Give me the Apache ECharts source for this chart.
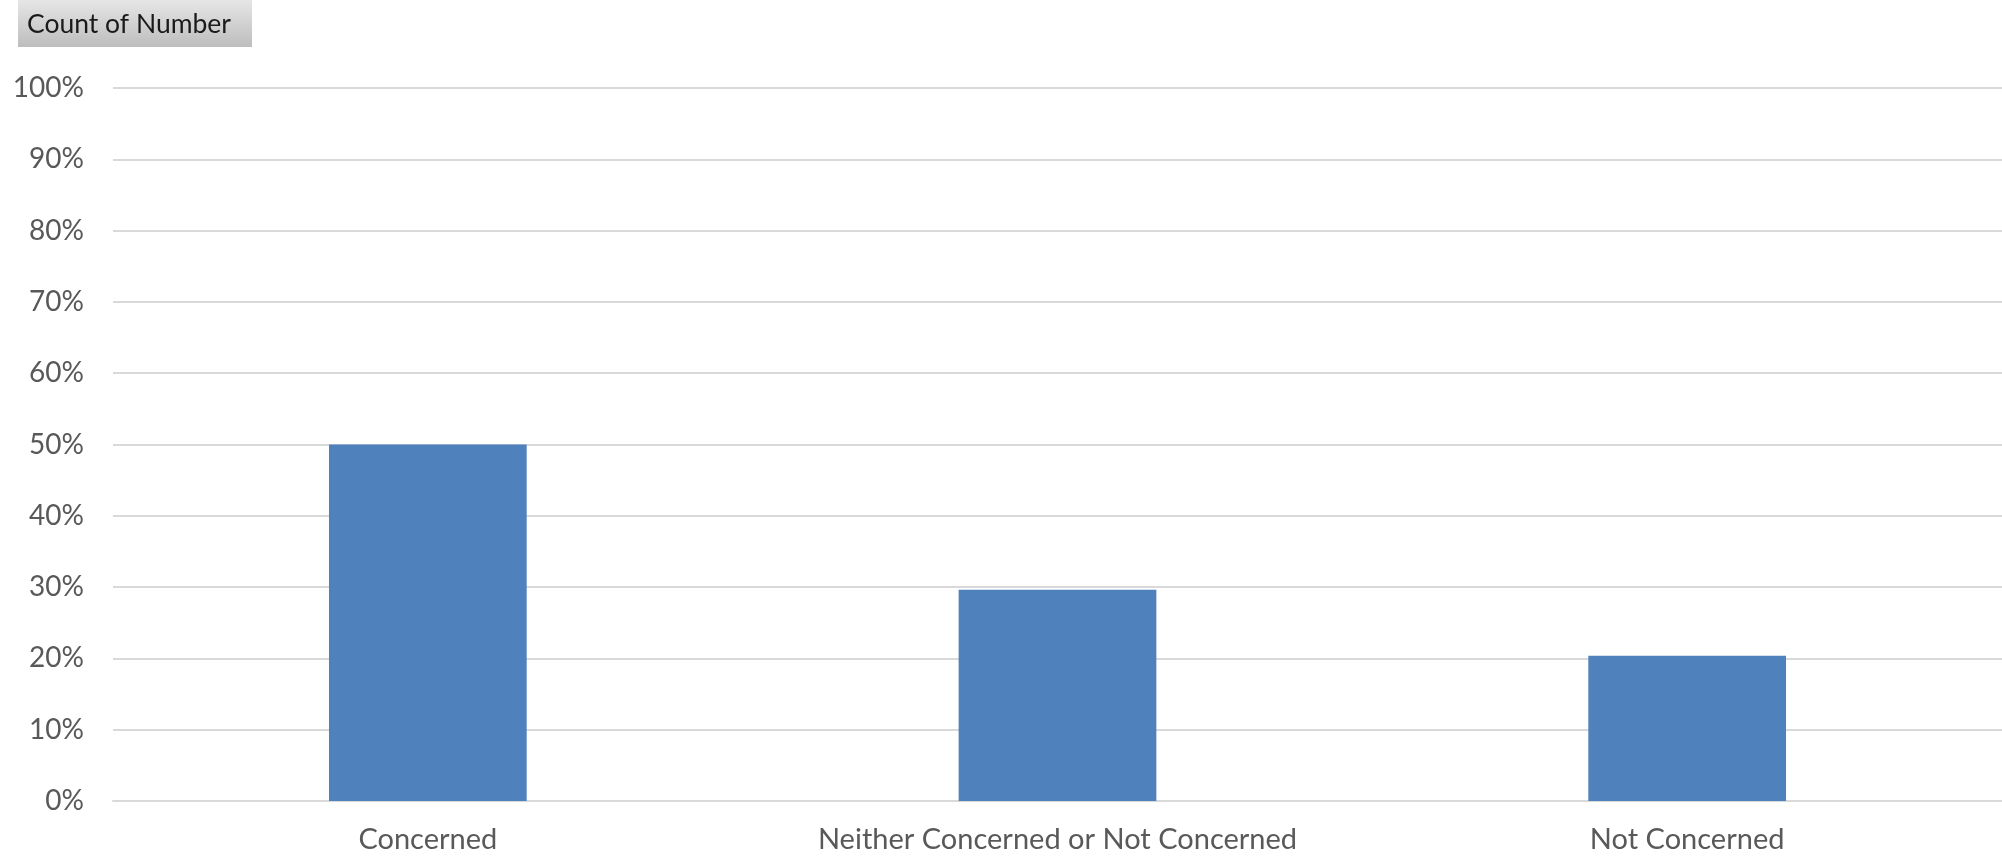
<!DOCTYPE html>
<html>
<head>
<meta charset="utf-8">
<script src="https://cdn.jsdelivr.net/npm/echarts@6/dist/echarts.min.js"></script>
<style>html,body{margin:0;padding:0;background:#fff;}#c{width:2002px;height:857px;}</style>
</head>
<body>
<div id="c"></div>
<script>
const categories = ['Concerned', 'Neither Concerned or Not Concerned', 'Not Concerned'];
const shares = [0.50, 0.2963, 0.2037];
const yTicks = [0, 0.1, 0.2, 0.3, 0.4, 0.5, 0.6, 0.7, 0.8, 0.9, 1.0];
const fieldLabel = 'Count of Number';

const chart = echarts.init(document.getElementById('c'), null, {renderer: 'canvas'});
chart.setOption({
  animation: false,
  backgroundColor: '#ffffff',
  grid: {left: 113, top: 88, width: 1893, height: 713, containLabel: false},
  xAxis: {
    type: 'category',
    data: categories,
    axisLine: {show: true, lineStyle: {color: '#d9d9d9', width: 2}},
    axisTick: {show: false},
    axisLabel: {color: '#595959', fontFamily: 'Lato', fontSize: 29, margin: 24}
  },
  yAxis: {
    type: 'value',
    min: yTicks[0],
    max: yTicks[yTicks.length - 1],
    interval: 0.1,
    axisLine: {show: false},
    axisTick: {show: false},
    splitLine: {lineStyle: {color: '#d9d9d9', width: 2}},
    axisLabel: {
      color: '#595959', fontFamily: 'Lato', fontSize: 28, margin: 29,
      formatter: v => Math.round(v * 100) + '%'
    }
  },
  series: [{
    type: 'bar',
    data: shares,
    barWidth: '31.4%',
    itemStyle: {color: '#4f81bd'}
  }],
  graphic: [{
    type: 'group',
    left: 18,
    top: 0,
    children: [{
      type: 'rect',
      shape: {x: 0, y: 0, width: 234, height: 47},
      style: {
        fill: new echarts.graphic.LinearGradient(0, 0, 0, 1, [
          {offset: 0, color: '#e6e6e6'},
          {offset: 1, color: '#bdbdbd'}
        ])
      }
    }, {
      type: 'text',
      x: 9,
      y: 24,
      style: {text: fieldLabel, fill: '#1a1a1a', font: '26.5px Lato', verticalAlign: 'middle'}
    }]
  }]
});
</script>
</body>
</html>
